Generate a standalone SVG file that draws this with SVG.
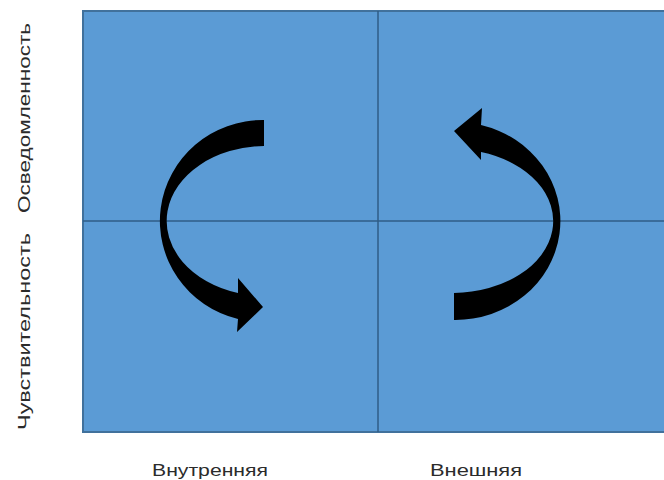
<svg xmlns="http://www.w3.org/2000/svg" width="664" height="480" viewBox="0 0 664 480">
<style>
.lbl{font-family:"Liberation Sans","DejaVu Sans",sans-serif;font-size:16px;fill:#2b2b2b;}
.div{stroke:#2f5d86;stroke-width:1.5;fill:none;}
.arrow{fill:#000;}
</style>
<rect x="0" y="0" width="664" height="480" fill="#ffffff"/>
<g id="quadrant">
<rect x="83" y="11" width="585" height="421" fill="#5b9bd5" stroke="#41719c" stroke-width="2"/>
</g>
<g id="dividers">
<line class="div" x1="378" y1="11" x2="378" y2="432"/>
<line class="div" x1="83" y1="221" x2="664" y2="221"/>
</g>
<g id="connectors">
<path id="arrow-left" class="arrow" d="M 264 120 A 103 101 0 0 0 238 319 L 237 332 L 263 307 L 238 278 L 238 293 A 99 75 0 0 1 264 146 Z"/>
<path id="arrow-right" class="arrow" d="M 454 320 A 105 99 0 0 0 481 125 L 482 108 L 454 131 L 481 160 L 481 152 A 101 72 0 0 1 454 293 Z"/>
</g>
<g id="label-osv">
<text class="lbl" transform="translate(30,213) rotate(-90)" textLength="190" lengthAdjust="spacingAndGlyphs">Осведомленность</text>
</g>
<g id="label-chuv">
<text class="lbl" transform="translate(30,430) rotate(-90)" textLength="197" lengthAdjust="spacingAndGlyphs">Чувствительность</text>
</g>
<g id="label-vnutr">
<text class="lbl" x="152" y="476" textLength="116" lengthAdjust="spacingAndGlyphs">Внутренняя</text>
</g>
<g id="label-vnesh">
<text class="lbl" x="430" y="476" textLength="92" lengthAdjust="spacingAndGlyphs">Внешняя</text>
</g>
</svg>
